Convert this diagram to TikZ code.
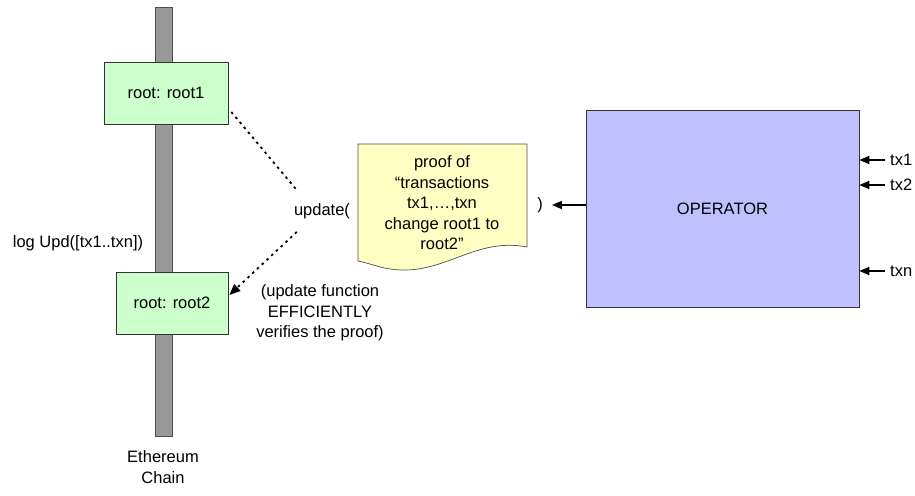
\documentclass[tikz,border=0pt]{standalone}
\usepackage{fontspec}
\setmainfont{Liberation Sans}
\usetikzlibrary{arrows.meta,calc}
\definecolor{rootgreen}{RGB}{204,255,204}
\definecolor{proofyellow}{RGB}{255,255,196}
\definecolor{oplavender}{RGB}{192,192,255}
\definecolor{chaingray}{RGB}{153,153,153}
\newcommand{\labelfont}{\fontsize{16.5}{20.5}\selectfont}
\tikzset{
  lbl/.style={font=\labelfont, inner sep=1pt, align=center},
  rootbox/.style={draw=black!80, fill=rootgreen, line width=0.7pt, font=\labelfont},
  dotline/.style={line width=1.8pt, dash pattern=on 2.5pt off 4pt},
  solidarrow/.style={line width=1.6pt, -{Triangle[length=10pt,width=8pt]}},
}
\begin{document}
\begin{tikzpicture}[x=1pt,y=-1pt]
\useasboundingbox (0,0) rectangle (915,495);
% the chain
\fill[chaingray, draw=black!70, line width=0.7pt] (155,7) rectangle (172,436);
\node[rootbox, minimum width=124pt, minimum height=62pt] (root1) at (166,93) {root: root1};
\node[rootbox, minimum width=112pt, minimum height=62pt] (root2) at (172,303) {root: root2};
\node[lbl] (chain) at (163,467) {Ethereum\\Chain};
\node[lbl] (log) at (78,243) {log Upd([tx1..txn])};
% update call
\node[lbl] (update) at (322,211) {update(};
\node[lbl] (close) at (540,205) {)};
\node[lbl] (note) at (320,313) {(update function\\EFFICIENTLY\\verifies the proof)};
% the proof document
\draw[fill=proofyellow, draw=black!70, line width=0.7pt] (358,144) -- (527,144) -- (527,247)
  .. controls (470,236) and (440,282) .. (380,267) .. controls (370,264) and (363,262) .. (358,261) -- cycle;
\node[lbl] (proof) at (442,203) {proof of\\“transactions\\tx1,…,txn\\change root1 to\\root2”};
% operator
\node[draw=black!80, fill=oplavender, line width=0.7pt, minimum width=273pt, minimum height=197pt, font=\labelfont] (op) at (722.5,208.5) {OPERATOR};
\node[lbl, anchor=west] (tx1) at (889,160) {tx1};
\node[lbl, anchor=west] (tx2) at (889,185) {tx2};
\node[lbl, anchor=west] (txn) at (889,271) {txn};
\draw[solidarrow] ($(tx1.west)+(-4,0)$) -- (tx1.west -| op.east);
\draw[solidarrow] ($(tx2.west)+(-4,0)$) -- (tx2.west -| op.east);
\draw[solidarrow] ($(txn.west)+(-4,0)$) -- (txn.west -| op.east);
\draw[solidarrow] (op.west |- close.east) -- ($(close.east)+(8,0)$);
% dotted links
\draw[dotline] ($(root1.east)+(3,19)$) -- ($(update.north west)+(4,-12)$);
\draw[dotline, -{Triangle[length=11pt,width=9pt]}] ($(update.south west)+(4,12)$) -- ($(root2.east)+(1,-8)$);
\end{tikzpicture}
\end{document}
